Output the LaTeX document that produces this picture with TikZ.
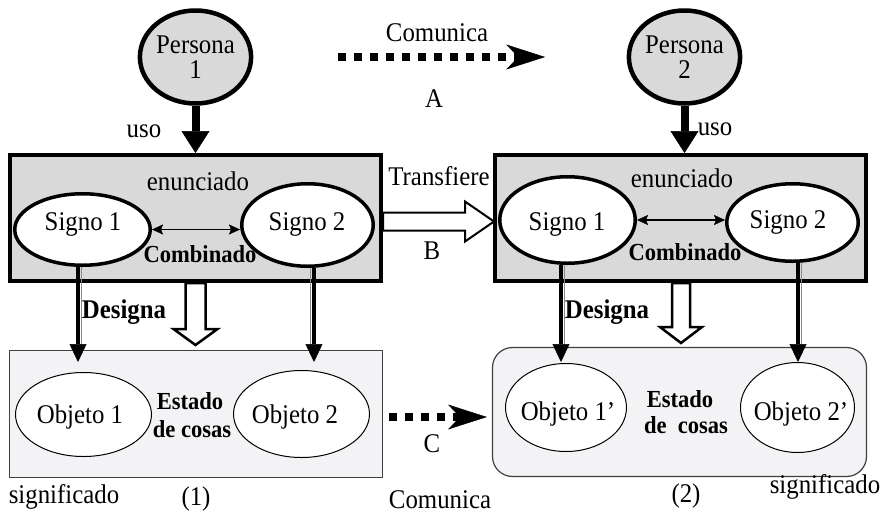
\documentclass[tikz,border=0pt]{standalone}
\usepackage{fontspec}
\setmainfont{Liberation Serif}[FakeStretch=0.92]
\usetikzlibrary{arrows.meta,shapes.geometric,calc}
\definecolor{boxgray}{RGB}{217,217,217}
\definecolor{lightbox}{RGB}{243,243,245}
\begin{document}
\begin{tikzpicture}[x=1pt,y=-1pt,
  txt/.style={inner sep=0pt, anchor=base, font=\fontsize{27}{27}\selectfont},
  btxt/.style={inner sep=0pt, anchor=base, font=\fontsize{24.5}{24.5}\selectfont\bfseries},
  persona/.style={ellipse, draw, line width=4.5pt, fill=boxgray, minimum width=101pt, minimum height=93pt, inner sep=0pt, align=center, font=\fontsize{27}{25}\selectfont},
  topbox/.style={rectangle, draw, line width=4pt, fill=boxgray, minimum width=371pt, minimum height=126pt, inner sep=0pt},
  botbox/.style={rectangle, draw=black!75, line width=1.2pt, fill=lightbox, inner sep=0pt},
  signo/.style={ellipse, draw, line width=3.5pt, fill=white, inner sep=0pt},
  objeto/.style={ellipse, draw, line width=1pt, fill=white, inner sep=0pt},
  usoarrow/.style={line width=8pt, -{Triangle[width=28pt,length=22pt,line width=0.5pt]}},
  desig/.style={line width=3.5pt, -{Triangle[width=17pt,length=18pt,line width=0.5pt]}},
  desiggray/.style={line width=1.3pt, draw=black!45},
  dotarrow/.style={line width=8pt, dash pattern=on 8pt off 8pt, -{Stealth[length=39pt,width=25pt,inset=12pt,line width=0.5pt]}},
  hollow/.style={draw, line width=2.5pt, fill=white, line join=miter},
  combine/.style={line width=1.5pt, {Stealth[length=11pt,width=10pt,inset=2pt,line width=0.3pt]}-{Stealth[length=11pt,width=10pt,inset=2pt,line width=0.3pt]}}
]
\useasboundingbox (0,0) rectangle (892,515);

% persons
\node[persona] (p1) at (195.5,57) {Persona\\1};
\node[persona] (p2) at (684.5,57) {Persona\\2};

% top boxes
\node[topbox] (b1) at (195.5,218) {};
\node[topbox] (b2) at (680.5,218) {};

% bottom boxes
\node[botbox, minimum width=373pt, minimum height=127pt] (b3) at (196,414) {};
\node[botbox, minimum width=374pt, minimum height=129pt, rounded corners=20pt] (b4) at (679.5,412) {};

% signos
\node[signo, minimum width=135.5pt, minimum height=71.5pt] (s1) at (82.5,229.5) {};
\node[signo, minimum width=131.5pt, minimum height=82.5pt] (s2) at (307.5,225) {};
\node[signo, minimum width=135.5pt, minimum height=86.5pt] (s1r) at (567.5,220) {};
\node[signo, minimum width=131.5pt, minimum height=77.5pt] (s2r) at (792.5,222.5) {};

% objetos
\node[objeto, minimum width=136pt, minimum height=84pt] (o1) at (83.5,414.5) {};
\node[objeto, minimum width=136pt, minimum height=87pt] (o2) at (301.5,414) {};
\node[objeto, minimum width=121pt, minimum height=88pt] (o1r) at (566,407.5) {};
\node[objeto, minimum width=114pt, minimum height=90pt] (o2r) at (797.5,407.5) {};

% texts
\node[txt] (tcom) at (437,41) {Comunica};
\node[txt] (ta) at (434,107) {A};
\node[txt] (uso1) at (144,137) {uso};
\node[txt] (uso2) at (715,135) {uso};
\node[txt] (en1) at (198,190) {enunciado};
\node[txt] (en2) at (682,187) {enunciado};
\node[btxt] (cb1) at (200,262) {Combinado};
\node[btxt] (cb2) at (685,260) {Combinado};
\node[txt] (ts1) at (83,230) {Signo 1};
\node[txt] (ts2) at (307,230) {Signo 2};
\node[txt] (ts1r) at (567,230) {Signo 1};
\node[txt] (ts2r) at (788,228) {Signo 2};
\node[txt] (ttr) at (439,185) {Transfiere};
\node[txt] (tb) at (432,259) {B};
\node[btxt, font=\fontsize{27}{27}\selectfont\bfseries] (dg1) at (124,318) {Designa};
\node[btxt, font=\fontsize{27}{27}\selectfont\bfseries] (dg2) at (607,318) {Designa};
\node[txt] (to1) at (80,423) {Objeto 1};
\node[txt] (to2) at (295,423) {Objeto 2};
\node[txt] (to1r) at (568,420) {Objeto 1’};
\node[txt] (to2r) at (801,420) {Objeto 2’};
\node[btxt] (es1) at (190,409) {Estado};
\node[btxt] (dc1) at (192,437) {de cosas};
\node[btxt] (es2) at (680,407) {Estado};
\node[btxt] (dc2) at (686,433) {de\ \ cosas};
\node[txt] (sig1) at (64,503) {significado};
\node[txt] (n1) at (196,505) {(1)};
\node[txt] (tcom2) at (440,508) {Comunica};
\node[txt] (tc) at (432,452) {C};
\node[txt] (n2) at (686,502) {(2)};
\node[txt] (sig2) at (825,493) {significado};

% uso arrows
\draw[usoarrow] (p1.south) -- (p1.south |- b1.north);
\draw[usoarrow] (p2.south) -- (p2.south |- b2.north);

% combination arrows
\draw[combine] (s1.east) -- (s1.east -| s2.west);
\draw[combine] (s1r.east) -- (s1r.east -| s2r.west);

% designa arrows
\coordinate (d1s) at ([xshift=-4.5pt]s1.south);
\coordinate (d1e) at (d1s |- o1.north);
\coordinate (d2s) at ([xshift=6.5pt]s2.south);
\coordinate (d2e) at (d2s |- o2.north);
\coordinate (d3s) at ([xshift=-6.5pt]s1r.south);
\coordinate (d3e) at (d3s |- o1r.north);
\coordinate (d4s) at ([xshift=5.5pt]s2r.south);
\coordinate (d4e) at (d4s |- o2r.north);
\draw[desiggray, shorten >=26pt] ([xshift=3.5pt]d1s) -- ([xshift=3.5pt]d1e);
\draw[desig, shorten >=10pt] (d1s) -- (d1e);
\draw[desiggray, shorten >=24pt] ([xshift=-3.5pt]d2s) -- ([xshift=-3.5pt]d2e);
\draw[desig, shorten >=8pt] (d2s) -- (d2e);
\draw[desiggray, shorten >=17pt] ([xshift=3.5pt]d3s) -- ([xshift=3.5pt]d3e);
\draw[desig, shorten >=1pt] (d3s) -- (d3e);
\draw[desiggray, shorten >=16pt] ([xshift=3.5pt]d4s) -- ([xshift=3.5pt]d4e);
\draw[desig] (d4s) -- (d4e);

% hollow arrows (down)
\draw[hollow] (b1.south) ++(-10,0) -- ++(0,46) -- ++(-12,0) -- ++(22,16) -- ++(22,-16) -- ++(-12,0) -- ++(0,-46) -- cycle;
\draw[hollow] (b2.south) ++(-8.5,0) -- ++(0,44) -- ++(-12,0) -- ++(21,16) -- ++(21,-16) -- ++(-12,0) -- ++(0,-44) -- cycle;

% transfer arrow
\draw[hollow, line width=2pt] ([yshift=-3.5pt]b1.east) ++(0,-9) -- ++(82,0) -- ++(0,-11) -- ++(29,20) -- ++(-29,20) -- ++(0,-11) -- ++(-82,0) -- cycle;

% dotted communication arrows
\draw[dotarrow, shorten <=84.5pt, shorten >=81.5pt] (p1.east) -- (p2.west);
\coordinate (c1) at ([yshift=-3pt]b3.east);
\draw[dotarrow, shorten <=5.5pt, shorten >=5pt] (c1) -- (c1 -| b4.west);
\end{tikzpicture}
\end{document}
